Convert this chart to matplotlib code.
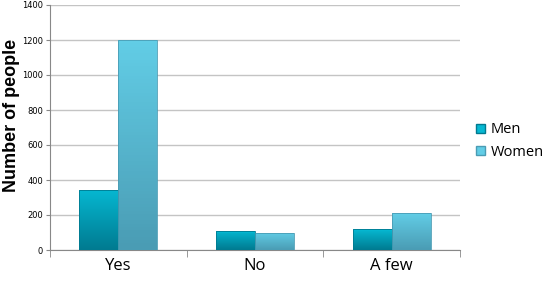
import matplotlib.pyplot as plt
import numpy as np
from matplotlib.patches import Patch
from matplotlib.colors import to_rgb

categories = ['Yes', 'No', 'A few']
men = [345, 110, 120]
women = [1200, 100, 210]
series = ['Men', 'Women']

fig = plt.figure(figsize=(5.5, 2.82), dpi=100)
ax = fig.add_axes([50/550, 1 - 250/282, 410/550, 245/282])

x = np.arange(len(categories))
w = 0.285
cols = {'Men': ('#007a90', '#06b8d2'), 'Women': ('#4a9cb4', '#62cde6')}


def grad_bar(xc, h, c0, c1):
    bar = ax.bar(xc, h, w, color='none', edgecolor=c0, linewidth=0.6, zorder=5)[0]
    g = np.linspace(0, 1, 64).reshape(-1, 1)
    a = np.array(to_rgb(c0))
    b = np.array(to_rgb(c1))
    img = (a * (1 - g) + b * g)[:, None, :]
    im = ax.imshow(img, extent=[xc - w/2, xc + w/2, 0, h], origin='lower',
                   aspect='auto', zorder=3)
    im.set_clip_path(bar)
    # light top cap
    ax.bar(xc, 10, w, bottom=h - 10, color=c1, alpha=0.7,
           edgecolor='none', zorder=4)


for i in x:
    grad_bar(i - w/2, men[i], *cols['Men'])
    grad_bar(i + w/2, women[i], *cols['Women'])

ax.set_xlim(-0.5, len(categories) - 0.5)
ax.set_ylim(0, 1400)
ax.set_yticks(range(0, 1401, 200))
ax.tick_params(axis='y', labelsize=6, length=3, color='#888888', pad=2)
ax.set_xticks(x)
ax.set_xticklabels(categories, fontsize=12, family='Open Sans')
ax.tick_params(axis='x', length=0, pad=6)
ax.set_xticks(np.arange(-0.5, len(categories)), minor=True)
ax.tick_params(axis='x', which='minor', length=5, color='#888888')
ax.grid(axis='y', color='#c4c4c4', linewidth=1, zorder=0)
ax.set_axisbelow(True)
for s in ['top', 'right']:
    ax.spines[s].set_visible(False)
for s in ['left', 'bottom']:
    ax.spines[s].set_color('#888888')
ax.set_ylabel('Number of people', fontsize=13, fontweight='bold',
              family='Liberation Sans')
ax.yaxis.set_label_coords(-30/410, 0.55)

handles = [Patch(facecolor=cols[s][1], edgecolor=cols[s][0]) for s in series]
fig.legend(handles, series, loc='center left', bbox_to_anchor=(476/550, 1 - 141/282),
           frameon=False, handlelength=0.6, handleheight=0.6, borderaxespad=0,
           borderpad=0, handletextpad=0.4, labelspacing=0.5,
           prop={'family': 'Open Sans', 'size': 10.5})

fig.savefig('out.png', dpi=100)
